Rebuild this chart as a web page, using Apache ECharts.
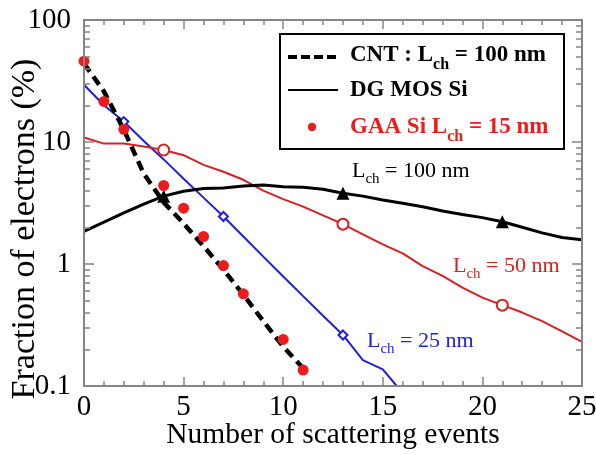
<!DOCTYPE html>
<html><head><meta charset="utf-8">
<script src="https://cdn.jsdelivr.net/npm/echarts@6/dist/echarts.min.js"></script>
<style>html,body{margin:0;padding:0;background:#fff}#c{width:596px;height:455px}</style>
</head><body><div id="c"></div>
<script>
// ---- data ----
const xRange = [0, 25];
const yRange = [0.1, 100];
// CNT, Lch = 100 nm (dashed)
const cntX = [0, 1, 2, 3, 4, 5, 6, 7, 8, 9, 10, 11];
const cntY = [44, 26, 12.6, 5.5, 3.2, 2.15, 1.4, 0.9, 0.56, 0.34, 0.21, 0.14];
// GAA Si, Lch = 15 nm (red dots)
const gaaX = [0, 1, 2, 4, 5, 6, 7, 8, 10, 11];
const gaaY = [46, 21.5, 12.7, 4.4, 2.87, 1.68, 0.97, 0.57, 0.241, 0.135];
// DG MOS Si, Lch = 100 nm (black)
const dg100X = [0, 1, 2, 3, 4, 5, 6, 7, 8, 9, 10, 11, 12, 13, 14, 15, 16, 17, 18, 19, 20, 21, 22, 23, 24, 25];
const dg100Y = [1.85, 2.2, 2.62, 3.1, 3.6, 3.95, 4.15, 4.2, 4.35, 4.45, 4.3, 4.25, 4.1, 3.8, 3.6, 3.35, 3.15, 2.95, 2.72, 2.55, 2.4, 2.22, 2.0, 1.8, 1.65, 1.58];
const dg100Marks = [4, 13, 21];
// DG MOS Si, Lch = 50 nm (red)
const dg50X = [0, 1, 2, 3, 4, 5, 6, 7, 8, 9, 10, 11, 12, 13, 14, 15, 16, 17, 18, 19, 20, 21, 22, 23, 24, 25];
const dg50Y = [10.9, 9.7, 9.7, 9.2, 8.6, 7.8, 6.5, 5.7, 4.9, 4.0, 3.4, 2.95, 2.5, 2.12, 1.75, 1.45, 1.22, 0.96, 0.8, 0.64, 0.53, 0.46, 0.4, 0.34, 0.28, 0.23];
const dg50Marks = [4, 13, 21];
// DG MOS Si, Lch = 25 nm (blue)
const dg25X = [0, 1, 2, 3, 4, 5, 6, 7, 8, 9, 10, 11, 12, 13, 14, 15, 15.7];
const dg25Y = [29.5, 20, 14.7, 10.2, 7.2, 5.0, 3.5, 2.45, 1.68, 1.15, 0.79, 0.545, 0.377, 0.262, 0.163, 0.137, 0.1];
const dg25Marks = [2, 7, 13];

const legendNames = ['CNT : L', 'DG MOS Si', 'GAA Si L'];

// ---- styles ----
const FONT = 'Liberation Serif, Times New Roman, serif';
const AX = '#858585';
const RED_LINE = '#d91f1f';
const RED_DOT = '#ec1c1c';
const BLUE = '#1e1ee6';

function pairs(x, y) { return x.map((v, i) => [v, y[i]]); }
function marked(x, y, marks, sym, size) {
  return x.map((v, i) => marks.indexOf(v) >= 0
    ? { value: [v, y[i]], symbol: sym, symbolSize: size }
    : { value: [v, y[i]], symbol: 'none' });
}

const xBase = {
  type: 'value', min: xRange[0], max: xRange[1], interval: 5, z: 20,
  axisLine: { show: true, onZero: false, lineStyle: { color: AX, width: 2 } },
  axisTick: { show: true, inside: true, length: 9, lineStyle: { color: AX, width: 1.5 } },
  minorTick: { show: true, splitNumber: 5, length: 5, lineStyle: { color: AX, width: 1.5 } },
  splitLine: { show: false }
};
const yBase = {
  type: 'log', min: yRange[0], max: yRange[1], z: 20,
  axisLine: { show: true, onZero: false, lineStyle: { color: AX, width: 2 } },
  axisTick: { show: true, inside: true, length: 10, lineStyle: { color: AX, width: 1.5 } },
  minorTick: { show: true, splitNumber: 9, length: 6, lineStyle: { color: AX, width: 1.5 } },
  splitLine: { show: false }
};

const mainRich = {
  m: { fontFamily: FONT, fontSize: 22, verticalAlign: 'top' },
  s: { fontFamily: FONT, fontSize: 15, padding: [12, 0, 0, 0] }
};
const legRich = {
  m: { fontFamily: FONT, fontSize: 23, fontWeight: 'bold', verticalAlign: 'top' },
  s: { fontFamily: FONT, fontSize: 16, fontWeight: 'bold', padding: [13, 0, 0, 0] }
};

function label(x, y, text, color, rich) {
  return { type: 'text', left: x, top: y, z: 100,
    style: { text: text, fill: color, rich: rich, font: '22px ' + FONT } };
}

const option = {
  animation: false,
  grid: { left: 84, right: 14, top: 20, bottom: 69, outerBoundsMode: 'none',
    show: true, borderColor: AX, borderWidth: 2, backgroundColor: 'transparent' },
  xAxis: [
    Object.assign({}, xBase, {
      position: 'bottom',
      axisLabel: { show: true, fontFamily: FONT, fontSize: 29, color: '#000', margin: 7 },
      name: 'Number of scattering events', nameLocation: 'middle', nameGap: 34, nameMoveOverlap: false,
      nameTextStyle: { fontFamily: FONT, fontSize: 29.5, color: '#000' }
    }),
    Object.assign({}, xBase, { position: 'top', axisLabel: { show: false } })
  ],
  yAxis: [
    Object.assign({}, yBase, {
      position: 'left',
      axisLabel: { show: true, fontFamily: FONT, fontSize: 29, color: '#000', margin: 13 },
      name: 'Fraction of electrons (%)', nameLocation: 'middle', nameGap: 42, nameMoveOverlap: false,
      nameTextStyle: { fontFamily: FONT, fontSize: 34, color: '#000', padding: [0, 52, 0, 0] }
    }),
    Object.assign({}, yBase, { position: 'right', axisLabel: { show: false } })
  ],
  series: [
    { type: 'line', name: 'DG MOS Si 25nm', data: marked(dg25X, dg25Y, dg25Marks, 'emptyDiamond', 9),
      symbol: 'circle', showSymbol: true, lineStyle: { color: BLUE, width: 2 },
      itemStyle: { color: BLUE, borderWidth: 1 }, z: 2 },
    { type: 'line', name: 'DG MOS Si 50nm', data: marked(dg50X, dg50Y, dg50Marks, 'emptyCircle', 11),
      symbol: 'circle', showSymbol: true, lineStyle: { color: RED_LINE, width: 2 },
      itemStyle: { color: RED_LINE, borderWidth: 1 }, z: 3 },
    { type: 'line', name: legendNames[1], data: marked(dg100X, dg100Y, dg100Marks, 'triangle', 13),
      symbol: 'circle', showSymbol: true, lineStyle: { color: '#000', width: 3 },
      itemStyle: { color: '#000' }, z: 4 },
    { type: 'line', name: legendNames[0], data: pairs(cntX, cntY), symbol: 'none',
      lineStyle: { color: '#000', width: 4.5, type: [10, 6] }, z: 5 },
    { type: 'scatter', name: legendNames[2], data: pairs(gaaX, gaaY), symbol: 'circle', symbolSize: 11,
      itemStyle: { color: RED_DOT, opacity: 1 }, z: 6 }
  ],
  graphic: [
    { type: 'rect', shape: { x: 280, y: 34, width: 284, height: 115 }, z: 90,
      style: { fill: '#fff', stroke: '#000', lineWidth: 2 } },
    { type: 'line', shape: { x1: 288, y1: 57, x2: 337, y2: 57 }, z: 91,
      style: { stroke: '#000', lineWidth: 4, lineDash: [9, 4] } },
    { type: 'line', shape: { x1: 288, y1: 90, x2: 338, y2: 90 }, z: 91,
      style: { stroke: '#000', lineWidth: 2 } },
    { type: 'circle', shape: { cx: 312, cy: 127, r: 4.2 }, z: 91, style: { fill: RED_DOT } },
    label(350, 44, '{m|' + legendNames[0] + '}{s|ch}{m| = 100 nm}', '#000', legRich),
    label(350, 79, '{m|' + legendNames[1] + '}', '#000', legRich),
    label(350, 116, '{m|' + legendNames[2] + '}{s|ch}{m| = 15 nm}', RED_DOT, legRich),
    label(352, 160, '{m|L}{s|ch}{m| = 100 nm}', '#000', mainRich),
    label(453, 255, '{m|L}{s|ch}{m| = 50 nm}', RED_LINE, mainRich),
    label(367, 330, '{m|L}{s|ch}{m| = 25 nm}', BLUE, mainRich)
  ]
};
const chart = echarts.init(document.getElementById('c'), null, { renderer: 'canvas' });
chart.setOption(option);
</script>
</body></html>
